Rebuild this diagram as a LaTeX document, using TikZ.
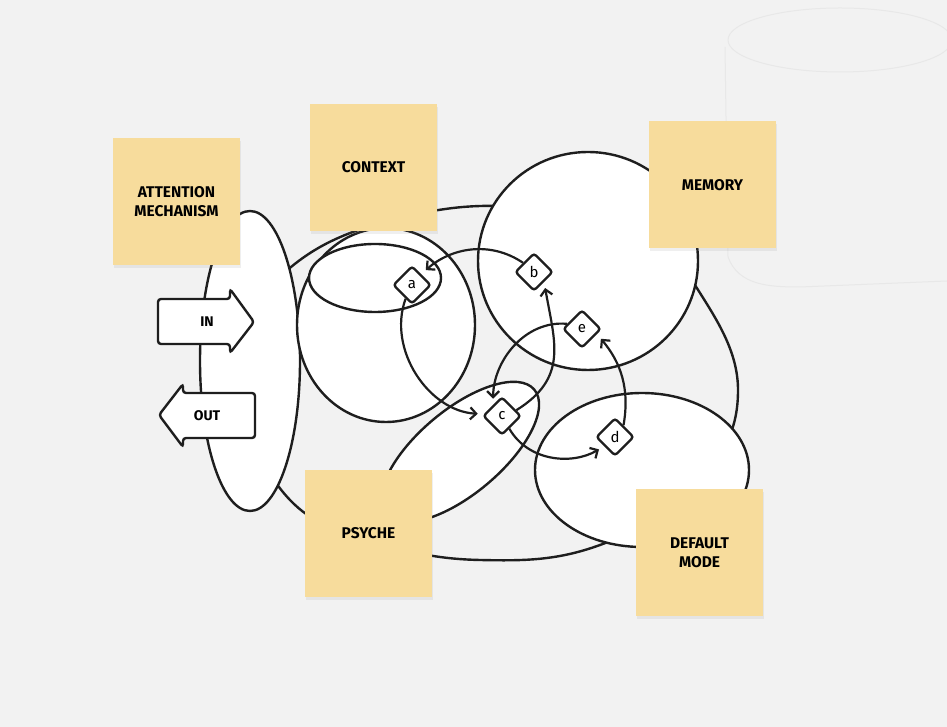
\documentclass[tikz,border=0pt]{standalone}
\usepackage{fontspec}
\setmainfont{Fira Sans}
\usetikzlibrary{shapes.geometric,shadows,arrows.meta}
\definecolor{paper}{HTML}{F2F2F2}
\definecolor{sketch}{HTML}{E8E8E8}
\definecolor{sticky}{HTML}{F7DC9C}
\definecolor{ink}{HTML}{1E1E1E}

\begin{document}
\begin{tikzpicture}[x=1pt,y=1pt,
    blob/.style={draw=ink, line width=2.4pt, fill=white},
    note/.style={fill=sticky, minimum size=127pt, inner sep=0pt, align=center,
      font=\bfseries\fontsize{15.5}{19}\selectfont,
      drop shadow={opacity=0.12, shadow xshift=1pt, shadow yshift=-3pt}},
    hub/.style={diamond, draw=ink, line width=2.4pt, fill=white, rounded corners=3pt,
      minimum size=38pt, inner sep=0pt, font=\fontsize{15}{15}\selectfont},
    link/.style={draw=ink, line width=2.2pt, shorten >=6pt,
      -{Straight Barb[length=6pt,width=12pt]}},
    blockarrow/.style={blob, rounded corners=3pt},
    tag/.style={font=\bfseries\fontsize{14}{14}\selectfont}]
        \fill[paper] (0,0) rectangle (947,727);
        \useasboundingbox (0,0) rectangle (947,727);
        \draw[sketch, line width=1pt] (840,687) ellipse [x radius=112, y radius=32];
        \draw[sketch, line width=1pt] (725,680) -- (728,470) to[out=-70,in=180] (800,440) -- (947,446);
        \draw[ink, line width=2.4pt] plot[smooth cycle, tension=0.7] coordinates
          {(520,520) (640,492) (700,434) (738,337) (700,247) (600,182) (480,167)
           (370,187) (290,227) (255,307) (262,407) (300,467) (400,509)};
        \draw[blob] (250,366) ellipse [x radius=50, y radius=150];
        \draw[blockarrow] (158,428) -- (230,428) -- (230,438) -- (254,405) -- (230,374) -- (230,383) -- (158,383) -- cycle;
        \draw[blockarrow] (159,312) -- (183,343) -- (183,334) -- (255,334) -- (255,289) -- (183,289) -- (183,280) -- cycle;
        \node[tag] (inlbl) at (207,405) {IN};
        \node[tag] (outlbl) at (207,311) {OUT};
        \draw[blob] (386,402) ellipse [x radius=89, y radius=97];
        \draw[blob] (375,449) ellipse [x radius=66, y radius=34];
        \draw[blob] (588,466) ellipse [x radius=110, y radius=109];
        \draw[blob, rotate around={40:(460,275)}] (460,275) ellipse [x radius=97, y radius=42];
        \draw[blob] (642,257) ellipse [x radius=107, y radius=77];
        \node[note] (attn) at (176.5,525) {ATTENTION\\MECHANISM};
        \node[note] (ctx) at (373.5,559.5) {CONTEXT};
        \node[note] (mem) at (712.5,542) {MEMORY};
        \node[note] (psy) at (368.5,193.5) {PSYCHE};
        \node[note] (dmode) at (699.5,174.5) {DEFAULT\\MODE};
        \node[hub] (a) at (412,442) {a};
        \node[hub] (b) at (534,455) {b};
        \node[hub] (e) at (582,398) {e};
        \node[hub] (c) at (502,311) {c};
        \node[hub] (d) at (615,290) {d};
        \draw[link] (b.140) to[out=146,in=41] (a.50);
        \draw[link] (a.245) to[out=250,in=177] (c.174);
        \draw[link] (e.161) to[out=175,in=90] (c.128);
        \draw[link] (c.22) to[out=32,in=280,looseness=1.2] (b.315);
        \draw[link] (c.300) to[out=300,in=210] (d.221);
        \draw[link] (d.54) to[out=80,in=310] (e.341);
      \end{tikzpicture}
\end{document}
